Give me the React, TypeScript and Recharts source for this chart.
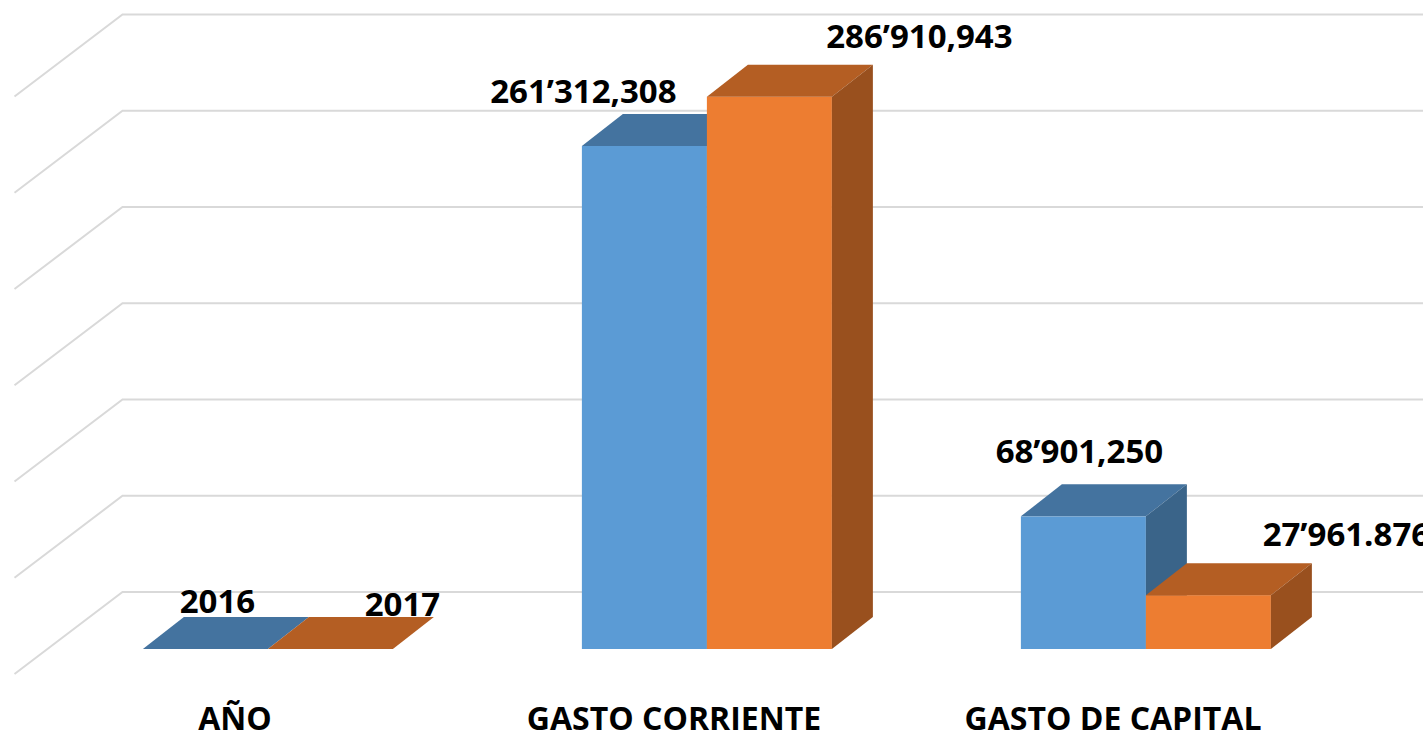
import React from "react";
import { BarChart, Bar, XAxis, YAxis, CartesianGrid, LabelList } from "recharts";

const categories = ["AÑO", "GASTO CORRIENTE", "GASTO DE CAPITAL"];
const values2016 = [2016, 261312308, 68901250];
const values2017 = [2017, 286910943, 27961876];
const labels2016 = ["2016", "261’312,308", "68’901,250"];
const labels2017 = ["2017", "286’910,943", "27’961.876"];
const yTicks = [0, 50e6, 100e6, 150e6, 200e6, 250e6, 300e6];

// hand-placed data labels: [dx, dy] from the top centre of the bar's front face
const offsets2016 = [[12, -36], [-61, -43], [-4, -53]];
const offsets2017 = [[72, -33], [150, -49], [138, -49]];

const data = categories.map((cat, i) => ({
    cat,
    y2016: values2016[i],
    y2017: values2017[i],
}));

// 3d look: bar depth, back wall and floor offsets
const DEPTH_X = 41;
const DEPTH_Y = 32;
const WALL_X = 74;
const WALL_Y = 57;
const FLOOR_X = 108;
const FLOOR_Y = 82;
const LABEL_SHIFT = 33; // category names sit on the floor's front edge

const FONT = "'Open Sans', sans-serif";

const makeBar = (front: string, top: string, side: string) => (props: any) => {
    const { x, y, width: w, height: h } = props;
    if (x == null || y == null) return <g />;
    return (
        <g>
            <rect x={x} y={y} width={w} height={Math.max(h, 0)} fill={front} />
            <polygon
                points={`${x},${y} ${x + w},${y} ${x + w + DEPTH_X},${y - DEPTH_Y} ${x + DEPTH_X},${y - DEPTH_Y}`}
                fill={top}
            />
            <polygon
                points={`${x + w},${y} ${x + w + DEPTH_X},${y - DEPTH_Y} ${x + w + DEPTH_X},${y + h - DEPTH_Y} ${x + w},${y + h}`}
                fill={side}
            />
        </g>
    );
};

const makeLabel = (texts: string[], offsets: number[][]) => (props: any) => {
    const { x, y, width, index } = props;
    const [dx, dy] = offsets[index];
    return (
        <text
            x={x + width / 2 + dx}
            y={y + dy}
            textAnchor="middle"
            fontFamily={FONT}
            fontWeight={700}
            fontSize={33}
            fill="#000"
        >
            {texts[index]}
        </text>
    );
};

const gridLine = (props: any) => {
    const { x1, x2, y1, index } = props;
    const by = y1 - WALL_Y;
    const bx = x1 + WALL_X;
    return (
        <polyline
            key={`grid-${index}`}
            points={`${bx - FLOOR_X},${by + FLOOR_Y} ${bx},${by} ${x2 + WALL_X},${by}`}
            fill="none"
            stroke="#D9D9D9"
            strokeWidth={2}
        />
    );
};

const CategoryTick = (props: any) => {
    const { x, y, payload } = props;
    return (
        <text
            x={x - LABEL_SHIFT}
            y={y + 81}
            textAnchor="middle"
            fontFamily={FONT}
            fontWeight={700}
            fontSize={32}
            fill="#000"
        >
            {payload.value}
        </text>
    );
};

export default function App() {
    return (
        <div style={{ position: "absolute", left: 0, top: 0, width: 1423, height: 735, background: "#fff" }}>
            <BarChart
                width={1423}
                height={735}
                data={data}
                margin={{ top: 71.5, right: 57.5, left: 48.5, bottom: 0 }}
                barCategoryGap="21.5%"
                barGap={0}
            >
                <CartesianGrid vertical={false} horizontal={gridLine} />
                <XAxis
                    dataKey="cat"
                    height={86}
                    axisLine={false}
                    tickLine={false}
                    tickSize={0}
                    tickMargin={0}
                    interval={0}
                    tick={<CategoryTick />}
                />
                <YAxis hide width={0} domain={[0, 300e6]} ticks={yTicks} />
                <Bar
                    dataKey="y2016"
                    isAnimationActive={false}
                    shape={makeBar("#5B9BD5", "#44739F", "#3A6489")}
                >
                    <LabelList dataKey="y2016" content={makeLabel(labels2016, offsets2016)} />
                </Bar>
                <Bar
                    dataKey="y2017"
                    isAnimationActive={false}
                    shape={makeBar("#ED7D31", "#B45E23", "#99501E")}
                >
                    <LabelList dataKey="y2017" content={makeLabel(labels2017, offsets2017)} />
                </Bar>
            </BarChart>
        </div>
    );
}
